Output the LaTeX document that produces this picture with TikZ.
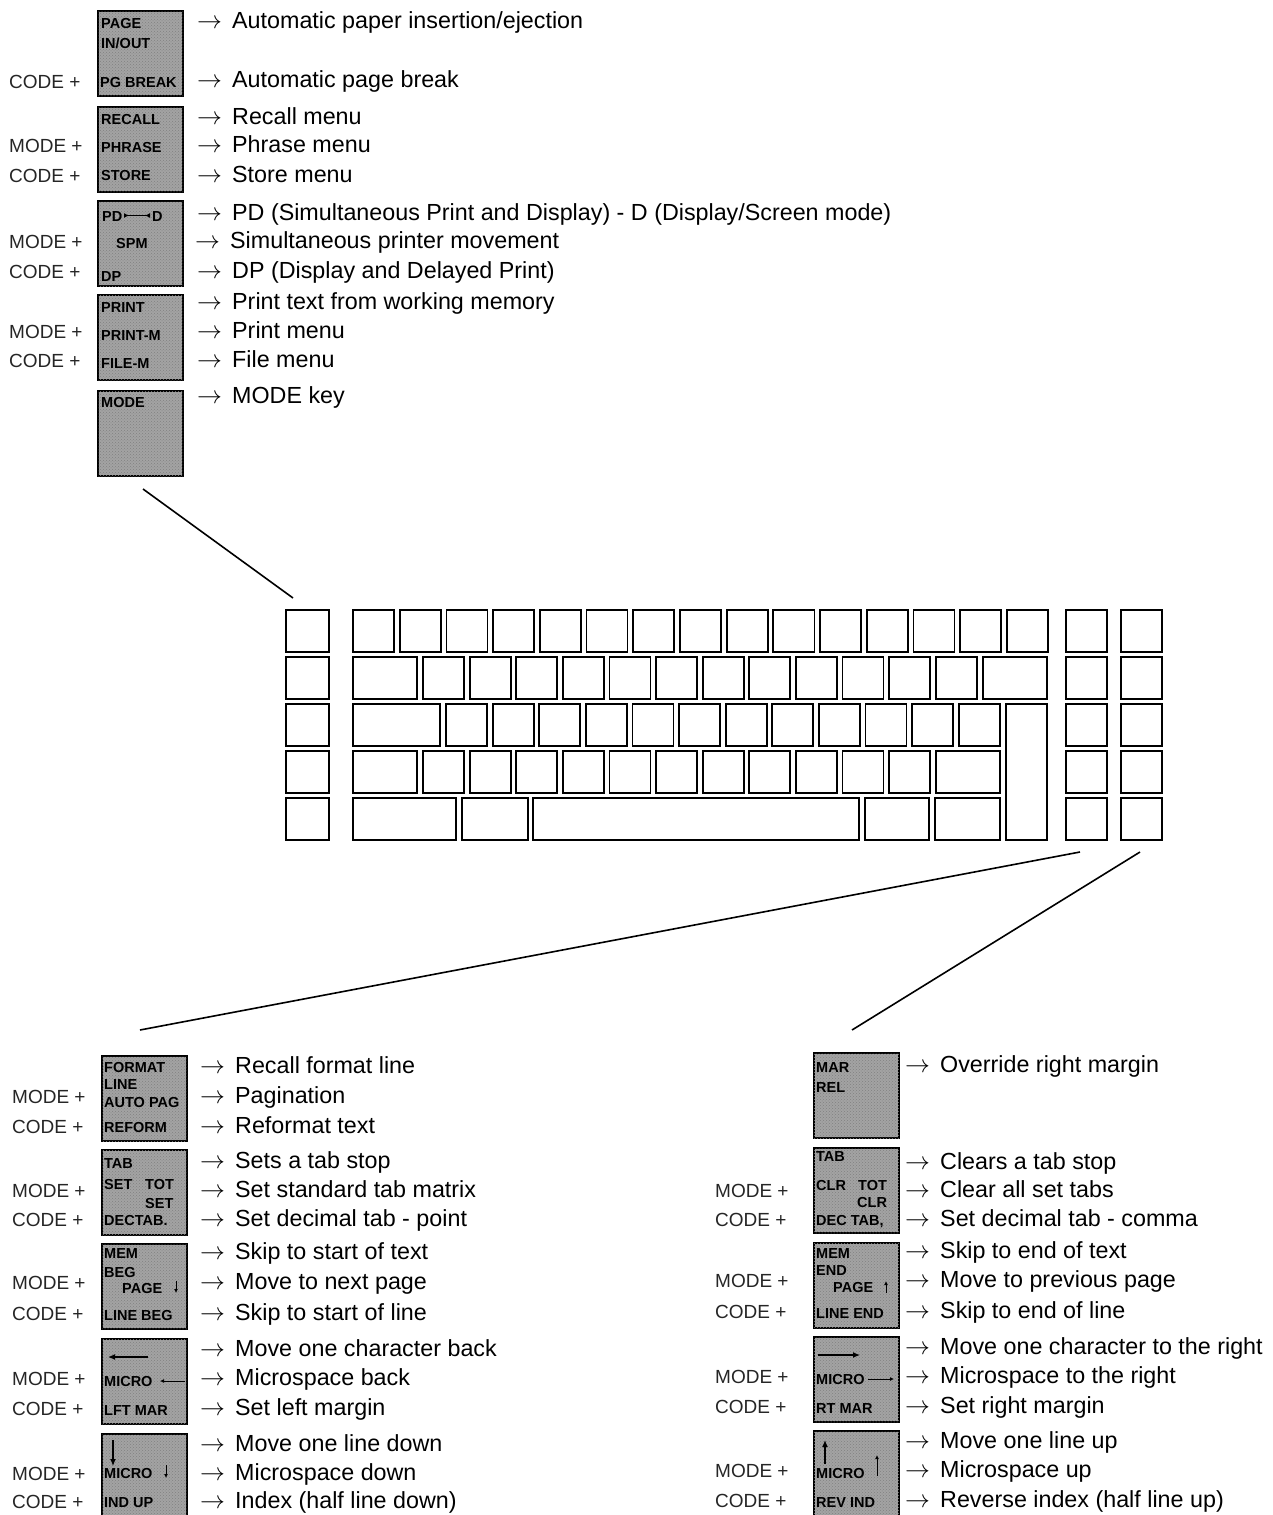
\documentclass[tikz,border=0pt]{standalone}
\usepackage{fontspec}
\setmainfont{Liberation Sans}
\usetikzlibrary{arrows.meta,patterns}
\newcommand\dfont{\fontsize{23.3}{25}\selectfont}
\newcommand\mfont{\fontsize{19}{21}\selectfont}
\newcommand\kfont{\fontsize{14.5}{15}\selectfont\bfseries}
\newcommand\dline[4]{%
  \node[arr] (#1a) at (#2,#3) {$\rightarrow$};
  \node[desc] (#1) at (#2+35,#3) {#4};}
\tikzset{
  desc/.style={anchor=base west, inner sep=0pt, font=\dfont},
  arr/.style={anchor=base west, inner sep=0pt, font=\dfont},
  mk/.style={anchor=base west, inner sep=0pt, font=\mfont, text=black!85},
  klab/.style={anchor=base west, inner sep=0pt, font=\kfont},
  keycap/.style={draw, line width=2.2pt, anchor=north west, inner sep=0pt,
    minimum width=85pt, minimum height=85pt, fill=black!36,
    postaction={pattern=crosshatch dots, pattern color=black!50}},
  kb/.style={draw, line width=1.8pt},
  conn/.style={draw, line width=1.6pt},
  karr/.style={line width=1.3pt, -{Latex[length=7pt,width=6pt]}},
  ksarr/.style={line width=0.9pt, -{Latex[length=4pt,width=4pt]}}
}
\begin{document}
\begin{tikzpicture}[x=1pt,y=-1pt]
\fill[white] (0,0) rectangle (1273,1515);
\useasboundingbox (0,0) rectangle (1273,1515);

% ---------------- top keys ----------------
\node[keycap] (tk1) at (97,10) {};
\node[keycap] (tk2) at (97,106) {};
\node[keycap] (tk3) at (97,200) {};
\node[keycap] (tk4) at (97,294) {};
\node[keycap] (tk5) at (97,390) {};

\node[klab] (tk1a) at (101,28) {PAGE};
\node[klab] (tk1b) at (101,48) {IN/OUT};
\node[klab] (tk1c) at (100,87) {PG BREAK};
\node[klab] (tk2a) at (101,124) {RECALL};
\node[klab] (tk2b) at (101,152) {PHRASE};
\node[klab] (tk2c) at (101,180) {STORE};
\node[klab] (tk3a) at (102,221) {PD};
\node[klab] (tk3d) at (152,221) {D};
\coordinate (pdl) at (124,215.5);
\coordinate (pdr) at (150,215.5);
\draw[line width=1.2pt, {Latex[reversed,length=5pt,width=5pt]}-{Latex[reversed,length=5pt,width=5pt]}] (pdl) -- (pdr);
\node[klab] (tk3b) at (116,248) {SPM};
\node[klab] (tk3c) at (101,281) {DP};
\node[klab] (tk4a) at (101,312) {PRINT};
\node[klab] (tk4b) at (101,340) {PRINT-M};
\node[klab] (tk4c) at (101,368) {FILE-M};
\node[klab] (tk5a) at (101,407) {MODE};

\dline{t1}{197}{28}{Automatic paper insertion/ejection}
\dline{t2}{197}{87}{Automatic page break}
\dline{t3}{197}{124}{Recall menu}
\dline{t4}{197}{152}{Phrase menu}
\dline{t5}{197}{182}{Store menu}
\dline{t6}{197}{220}{PD (Simultaneous Print and Display) - D (Display/Screen mode)}
\dline{t7}{195}{248}{Simultaneous printer movement}
\dline{t8}{197}{278}{DP (Display and Delayed Print)}
\dline{t9}{197}{309}{Print text from working memory}
\dline{t10}{197}{338}{Print menu}
\dline{t11}{197}{367}{File menu}
\dline{t12}{197}{403}{MODE key}

\node[mk] (tm1) at (9,88) {CODE +};
\node[mk] (tm2) at (9,152) {MODE +};
\node[mk] (tm3) at (9,182) {CODE +};
\node[mk] (tm4) at (9,248) {MODE +};
\node[mk] (tm5) at (9,278) {CODE +};
\node[mk] (tm6) at (9,338) {MODE +};
\node[mk] (tm7) at (9,367) {CODE +};

% ---------------- keyboard ----------------
\foreach \r in {610,657,704,751,798} {
  \draw[kb] (286,\r) rectangle +(43,42);
  \draw[kb] (1066,\r) rectangle +(41,42);
  \draw[kb] (1121,\r) rectangle +(41,42);
}
% row 1
\foreach \i in {0,...,14} \draw[kb] (353+46.71*\i,610) rectangle +(41,42);
% row 2
\draw[kb] (353,657) rectangle (417,699);
\foreach \i in {0,...,11} \draw[kb] (423+46.6*\i,657) rectangle +(41,42);
\draw[kb] (983,657) rectangle (1047,699);
% row 3
\draw[kb] (353,704) rectangle (440,746);
\foreach \i in {0,...,11} \draw[kb] (446+46.6*\i,704) rectangle +(41,42);
\draw[kb] (1006,704) rectangle (1047,840);
% row 4
\draw[kb] (353,751) rectangle (417,793);
\foreach \i in {0,...,10} \draw[kb] (423+46.6*\i,751) rectangle +(41,42);
\draw[kb] (936,751) rectangle (1000,793);
% row 5
\draw[kb] (353,798) rectangle (456,840);
\draw[kb] (462,798) rectangle (528,840);
\draw[kb] (533,798) rectangle (859,840);
\draw[kb] (865,798) rectangle (929,840);
\draw[kb] (935,798) rectangle (1000,840);

% connectors
\coordinate (c1s) at (143,489);
\coordinate (c1e) at (293,598);
\coordinate (c2s) at (1080,852);
\coordinate (c2e) at (140,1030);
\coordinate (c3s) at (1140,852);
\coordinate (c3e) at (852,1030);
\draw[conn] (c1s) -- (c1e);
\draw[conn] (c2s) -- (c2e);
\draw[conn] (c3s) -- (c3e);

% ---------------- bottom left ----------------
\node[keycap] (lk1) at (101,1055) {};
\node[keycap] (lk2) at (101,1149) {};
\node[keycap] (lk3) at (101,1243) {};
\node[keycap] (lk4) at (101,1338) {};
\node[keycap, minimum height=92pt] (lk5) at (101,1433) {};

\node[klab] (lk1a) at (104,1072) {FORMAT};
\node[klab] (lk1b) at (104,1089) {LINE};
\node[klab] (lk1c) at (104,1107) {AUTO PAG};
\node[klab] (lk1d) at (104,1132) {REFORM};
\node[klab] (lk2a) at (104,1168) {TAB};
\node[klab] (lk2b) at (104,1189) {SET};
\node[klab] (lk2c) at (145,1189) {TOT};
\node[klab] (lk2d) at (145,1208) {SET};
\node[klab] (lk2e) at (104,1225) {DECTAB.};
\node[klab] (lk3a) at (104,1258) {MEM};
\node[klab] (lk3b) at (104,1277) {BEG};
\node[klab] (lk3c) at (122,1293) {PAGE};
\draw[ksarr] (176,1281) -- (176,1293);
\node[klab] (lk3d) at (104,1320) {LINE BEG};
\coordinate (lk4s) at (148,1357);
\coordinate (lk4e) at (108,1357);
\draw[karr] (lk4s) -- (lk4e);
\node[klab] (lk4a) at (104,1386) {MICRO};
\draw[ksarr] (185,1381) -- (160,1381);
\node[klab] (lk4b) at (104,1415) {LFT MAR};
\coordinate (lk5s) at (113,1440);
\coordinate (lk5e) at (113,1466);
\draw[karr] (lk5s) -- (lk5e);
\node[klab] (lk5a) at (104,1478) {MICRO};
\draw[ksarr] (166,1465) -- (166,1478);
\node[klab] (lk5b) at (104,1507) {IND UP};

\dline{l1}{200}{1073}{Recall format line}
\dline{l2}{200}{1103}{Pagination}
\dline{l3}{200}{1133}{Reformat text}
\dline{l4}{200}{1168}{Sets a tab stop}
\dline{l5}{200}{1197}{Set standard tab matrix}
\dline{l6}{200}{1226}{Set decimal tab - point}
\dline{l7}{200}{1259}{Skip to start of text}
\dline{l8}{200}{1289}{Move to next page}
\dline{l9}{200}{1320}{Skip to start of line}
\dline{l10}{200}{1356}{Move one character back}
\dline{l11}{200}{1385}{Microspace back}
\dline{l12}{200}{1415}{Set left margin}
\dline{l13}{200}{1451}{Move one line down}
\dline{l14}{200}{1480}{Microspace down}
\dline{l15}{200}{1508}{Index (half line down)}

\node[mk] (lm1) at (12,1103) {MODE +};
\node[mk] (lm2) at (12,1133) {CODE +};
\node[mk] (lm3) at (12,1197) {MODE +};
\node[mk] (lm4) at (12,1226) {CODE +};
\node[mk] (lm5) at (12,1289) {MODE +};
\node[mk] (lm6) at (12,1320) {CODE +};
\node[mk] (lm7) at (12,1385) {MODE +};
\node[mk] (lm8) at (12,1415) {CODE +};
\node[mk] (lm9) at (12,1480) {MODE +};
\node[mk] (lm10) at (12,1508) {CODE +};

% ---------------- bottom right ----------------
\node[keycap] (rk1) at (813,1052) {};
\node[keycap] (rk2) at (813,1147) {};
\node[keycap] (rk3) at (813,1242) {};
\node[keycap] (rk4) at (813,1336) {};
\node[keycap, minimum height=92pt] (rk5) at (813,1430) {};

\node[klab] (rk1a) at (816,1072) {MAR};
\node[klab] (rk1b) at (816,1092) {REL};
\node[klab] (rk2a) at (816,1161) {TAB};
\node[klab] (rk2b) at (816,1190) {CLR};
\node[klab] (rk2c) at (858,1190) {TOT};
\node[klab] (rk2d) at (857,1207) {CLR};
\node[klab] (rk2e) at (816,1225) {DEC TAB,};
\node[klab] (rk3a) at (816,1258) {MEM};
\node[klab] (rk3b) at (816,1275) {END};
\node[klab] (rk3c) at (833,1292) {PAGE};
\draw[ksarr] (886,1293) -- (886,1281);
\node[klab] (rk3d) at (816,1318) {LINE END};
\coordinate (rk4s) at (818,1355);
\coordinate (rk4e) at (860,1355);
\draw[karr] (rk4s) -- (rk4e);
\node[klab] (rk4a) at (816,1384) {MICRO};
\draw[ksarr] (868,1379) -- (894,1379);
\node[klab] (rk4b) at (816,1413) {RT MAR};
\coordinate (rk5s) at (825,1464);
\coordinate (rk5e) at (825,1440);
\draw[karr] (rk5s) -- (rk5e);
\node[klab] (rk5a) at (816,1478) {MICRO};
\draw[ksarr] (877,1476) -- (877,1455);
\node[klab] (rk5b) at (816,1507) {REV IND};

\dline{r1}{905}{1072}{Override right margin}
\dline{r2}{905}{1169}{Clears a tab stop}
\dline{r3}{905}{1197}{Clear all set tabs}
\dline{r4}{905}{1226}{Set decimal tab - comma}
\dline{r5}{905}{1258}{Skip to end of text}
\dline{r6}{905}{1287}{Move to previous page}
\dline{r7}{905}{1318}{Skip to end of line}
\dline{r8}{905}{1354}{Move one character to the right}
\dline{r9}{905}{1383}{Microspace to the right}
\dline{r10}{905}{1413}{Set right margin}
\dline{r11}{905}{1448}{Move one line up}
\dline{r12}{905}{1477}{Microspace up}
\dline{r13}{905}{1507}{Reverse index (half line up)}

\node[mk] (rm1) at (715,1197) {MODE +};
\node[mk] (rm2) at (715,1226) {CODE +};
\node[mk] (rm3) at (715,1287) {MODE +};
\node[mk] (rm4) at (715,1318) {CODE +};
\node[mk] (rm5) at (715,1383) {MODE +};
\node[mk] (rm6) at (715,1413) {CODE +};
\node[mk] (rm7) at (715,1477) {MODE +};
\node[mk] (rm8) at (715,1507) {CODE +};
\end{tikzpicture}
\end{document}
